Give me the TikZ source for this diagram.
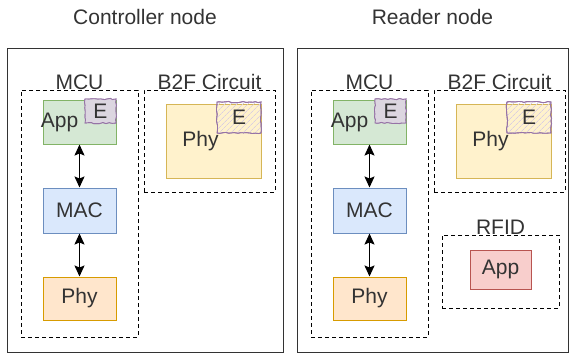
\documentclass[tikz,border=0pt]{standalone}
\usepackage{fontspec}
\setmainfont{Liberation Sans}
\usetikzlibrary{arrows.meta}
\usetikzlibrary{positioning, patterns.meta}
\usetikzlibrary{decorations.pathmorphing}
\definecolor{txtgray}{HTML}{333333}
\definecolor{appfill}{HTML}{D5E8D4}
\definecolor{appline}{HTML}{82B366}
\definecolor{macfill}{HTML}{DAE8FC}
\definecolor{macline}{HTML}{6C8EBF}
\definecolor{phyfill}{HTML}{FFE6CC}
\definecolor{phyline}{HTML}{D79B00}
\definecolor{b2ffill}{HTML}{FFF2CC}
\definecolor{b2fline}{HTML}{D6B656}
\definecolor{rfidfill}{HTML}{F8CECC}
\definecolor{rfidline}{HTML}{B85450}
\definecolor{eline}{HTML}{9673A6}
\definecolor{efill}{HTML}{DCD6E0}
\tikzset{
	layer/.style={
		draw,
		rectangle,
		inner sep=0pt,
		line width=1pt,
		minimum width=73pt,
		text=txtgray
	},
	group/.style={
		draw=black,
		dashed,
		dash pattern=on 4pt off 3pt,
		line width=1pt,
		inner sep=0pt,
		label distance=7pt
	},
	grouplabel/.style={inner sep=0pt, text=txtgray},
	ebox/.style={
		draw=eline,
		line width=0.9pt,
		inner sep=0pt,
		text=txtgray,
		decorate,
		decoration={random steps, segment length=3pt, amplitude=0.6pt},
		preaction={
			draw=eline,
			line width=0.9pt,
			decorate,
			decoration={random steps, segment length=5pt, amplitude=0.8pt}
		}
	},
	link/.style={<->, line width=1.4pt},
	core/.pic = {
		% MCU with its three layers
		\node[group, minimum width=117pt, minimum height=247pt,
			label={[grouplabel]above:MCU}] (-mcu) at (79.5,213.5) {};
		\node[layer, fill=appfill, draw=appline, minimum height=44pt,
			label={[xshift=-20pt, text=txtgray]center:App}] (-app) at (79.5,122) {};
		\node[layer, fill=macfill, draw=macline, minimum height=45pt,
			below=43pt of -app] (-mac) {MAC};
		\node[layer, fill=phyfill, draw=phyline, minimum height=43pt,
			below=43pt of -mac] (-phy) {Phy};
		\draw[link] (-app) -- (-mac);
		\draw[link] (-mac) -- (-phy);
		\node[ebox, fill=efill, minimum width=31pt, minimum height=24pt]
			(-appe) at (100.5,111) {E};

		% B2F circuit
		\node[group, minimum width=131pt, minimum height=102pt,
			label={[grouplabel]above:B2F Circuit}] (-b2f) at (209.5,141) {};
		\node[layer, fill=b2ffill, draw=b2fline, minimum width=95pt, minimum height=74pt,
			label={[xshift=-13pt, text=txtgray]center:Phy}] (-b2fphy) at (213.5,141) {};
		\node[ebox, pattern={Lines[angle=45, distance=4pt, line width=0.8pt]},
			pattern color=eline!35, minimum width=44pt, minimum height=31pt]
			(-b2fe) at (239,117.5) {E};
	}
}

\begin{document}
\begin{tikzpicture}[
		x=1pt, y=-1pt,
		>={Stealth[length=11pt, width=10pt, inset=2pt]},
		font=\fontsize{21}{25}\selectfont
	]

	% Canvas
	\useasboundingbox (0,0) rectangle (569,354);

	% The two nodes
	\node[draw=txtgray, line width=1pt, minimum width=276pt, minimum height=304pt,
		label={[grouplabel, label distance=23pt]above:Controller node}] (ctrl) at (145,200) {};
	\node[draw=txtgray, line width=1pt, minimum width=271pt, minimum height=304pt,
		label={[grouplabel, label distance=23pt]above:Reader node}] (rdr) at (432.5,200) {};

	% Same core in both
	\pic (c) at (0,0) {core};
	\pic (r) at (290,0) {core};

	% RFID of the reader
	\node[group, minimum width=117pt, minimum height=73pt, label distance=5pt,
		label={[grouplabel]above:RFID}] (rfid) at (500.5,271.5) {};
	\node[layer, fill=rfidfill, draw=rfidline, minimum width=61pt, minimum height=39pt]
		(rfidapp) at (500.5,269.5) {App};

\end{tikzpicture}
\end{document}
